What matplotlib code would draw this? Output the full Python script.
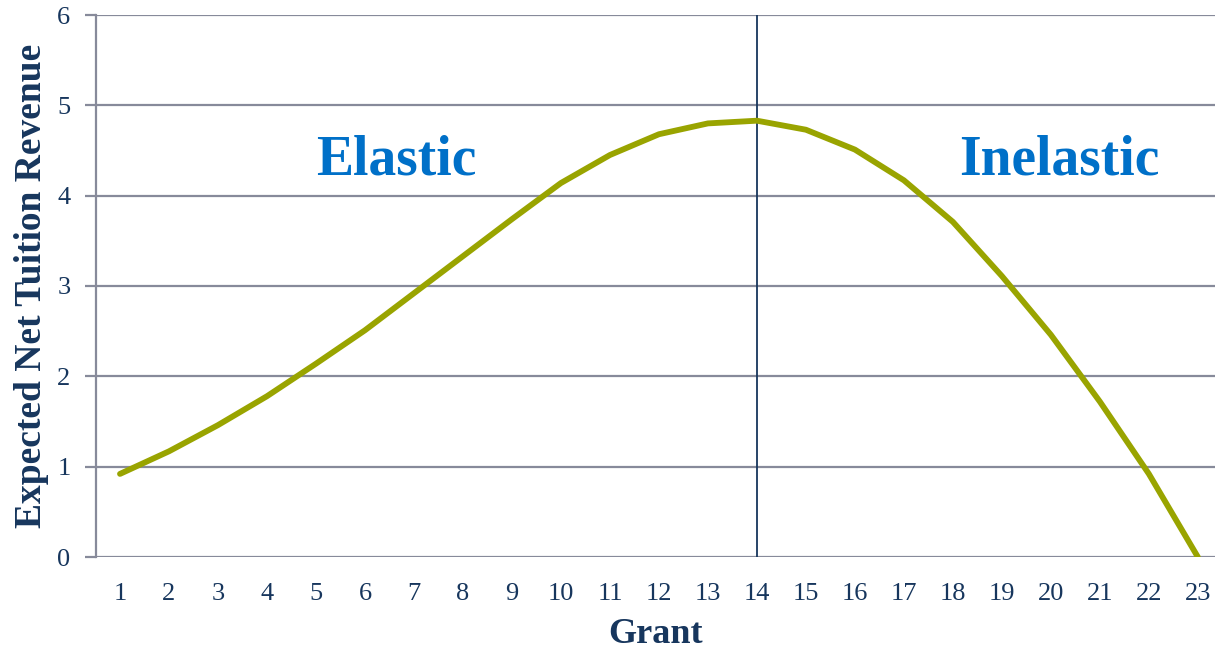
import matplotlib.pyplot as plt

plt.rcParams['font.family'] = ['Liberation Serif', 'DejaVu Serif']

grant = list(range(1, 24))
revenue = [0.92, 1.17, 1.46, 1.78, 2.14, 2.51, 2.92, 3.33, 3.74, 4.14,
           4.45, 4.68, 4.80, 4.83, 4.73, 4.51, 4.17, 3.71, 3.11, 2.46,
           1.72, 0.92, 0.0]
peak_grant = 14

navy = '#17365d'
grid_grey = '#878a9a'

fig = plt.figure(figsize=(12.15, 6.55), dpi=100)
ax = fig.add_axes([95.5 / 1215, 1 - 557 / 655, 1 - 95.5 / 1215, (557 - 15) / 655])

ax.plot(grant, revenue, color='#99a400', lw=4.2, solid_capstyle='round', zorder=3)
ax.axvline(peak_grant, color=navy, lw=1.3, zorder=2)

ax.set_xlim(0.5, 23.35)
ax.set_ylim(0, 6)
ax.set_xticks(grant)
ax.set_yticks(range(7))
ax.grid(axis='y', color=grid_grey, lw=1.6)
ax.set_axisbelow(True)

for s in ['top', 'right', 'bottom']:
    ax.spines[s].set_visible(False)
ax.spines['left'].set_color(grid_grey)
ax.spines['left'].set_linewidth(1.6)
ax.tick_params(axis='y', length=8, width=1.6, color=grid_grey, labelcolor=navy,
               labelsize=19, pad=10)
ax.tick_params(axis='x', length=0, labelcolor=navy, labelsize=19, pad=19)

ax.set_xlabel('Grant', fontsize=26, fontweight='bold', color=navy, labelpad=9)
ax.set_ylabel('Expected Net Tuition Revenue', fontsize=27, fontweight='bold',
              color=navy, labelpad=6)

ax.text(6.63, 4.39, 'Elastic', fontsize=40, fontweight='bold', color='#0070c8',
        ha='center', va='center')
ax.text(20.18, 4.39, 'Inelastic', fontsize=40, fontweight='bold', color='#0070c8',
        ha='center', va='center')

fig.savefig('out.png', dpi=100)
